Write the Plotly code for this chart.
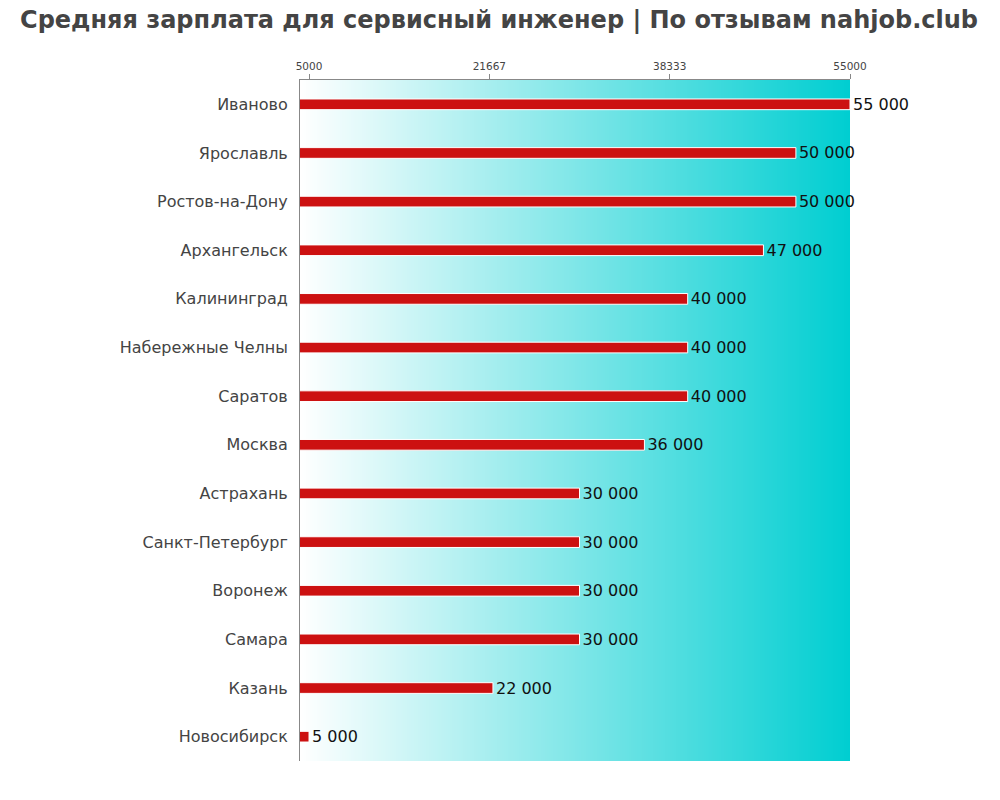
import base64
import struct
import zlib

import plotly.graph_objects as go

cities = ["Иваново", "Ярославль", "Ростов-на-Дону", "Архангельск", "Калининград",
          "Набережные Челны", "Саратов", "Москва", "Астрахань", "Санкт-Петербург",
          "Воронеж", "Самара", "Казань", "Новосибирск"]
salaries = [55000, 50000, 50000, 47000, 40000, 40000, 40000, 36000, 30000, 30000,
            30000, 30000, 22000, 5000]
tick_vals = [5000, 21667, 38333, 55000]
tick_text = ["5000", "21667", "38333", "55000"]

x_min = 5000 - (55000 - 5000) / 60
x_max = 55000
n = len(cities)
positions = list(range(n))
labels = [f"{v:,}".replace(",", " ") for v in salaries]


def gradient_png(w, c0, c1):
    row = b"\x00" + b"".join(
        bytes(round(c0[k] + (c1[k] - c0[k]) * i / (w - 1)) for k in range(3))
        for i in range(w))
    raw = row * 2

    def chunk(t, d):
        return struct.pack(">I", len(d)) + t + d + struct.pack(">I", zlib.crc32(t + d) & 0xffffffff)

    png = b"\x89PNG\r\n\x1a\n" + chunk(b"IHDR", struct.pack(">IIBBBBB", w, 2, 8, 2, 0, 0, 0)) \
        + chunk(b"IDAT", zlib.compress(raw)) + chunk(b"IEND", b"")
    return "data:image/png;base64," + base64.b64encode(png).decode()


bg = gradient_png(550, (255, 255, 255), (0, 206, 209))

fig = go.Figure()
fig.add_trace(go.Bar(
    x=salaries, y=positions, orientation="h",
    marker=dict(color="#CC1111", line=dict(color="white", width=1)),
    width=0.22, text=labels, textposition="outside", constraintext="none",
    textfont=dict(size=16, color="#111"), cliponaxis=False,
    showlegend=False))

fig.add_layout_image(dict(source=bg, xref="paper", yref="paper", x=0, y=1,
                          sizex=1, sizey=1, xanchor="left", yanchor="top",
                          sizing="stretch", layer="below"))

fig.update_layout(
    width=1000, height=800,
    margin=dict(l=292, r=158, t=72, b=47),
    paper_bgcolor="white", plot_bgcolor="white",
    font=dict(family="DejaVu Sans", color="#444"),
    title=dict(text="<b>Средняя зарплата для сервисный инженер | По отзывам nahjob.club</b>",
               x=0.491, xanchor="center", y=0.986, yanchor="middle",
               font=dict(size=24, color="#444", family="DejaVu Sans")),
    xaxis=dict(range=[x_min, x_max], side="top", tickvals=tick_vals, ticktext=tick_text,
               tickfont=dict(size=10.5, color="#444"), ticks="outside", ticklen=5,
               tickcolor="#888", showgrid=False, zeroline=False, showline=True,
               linecolor="#888", linewidth=1, automargin=False),
    yaxis=dict(range=[n - 0.5, -0.5], tickvals=positions, ticktext=cities,
               tickfont=dict(size=16, color="#444"),
               showgrid=False, zeroline=False, showline=True, linecolor="#888",
               linewidth=1, ticks="", ticklabelstandoff=8, automargin=False),
)
fig.write_html("out.html")
